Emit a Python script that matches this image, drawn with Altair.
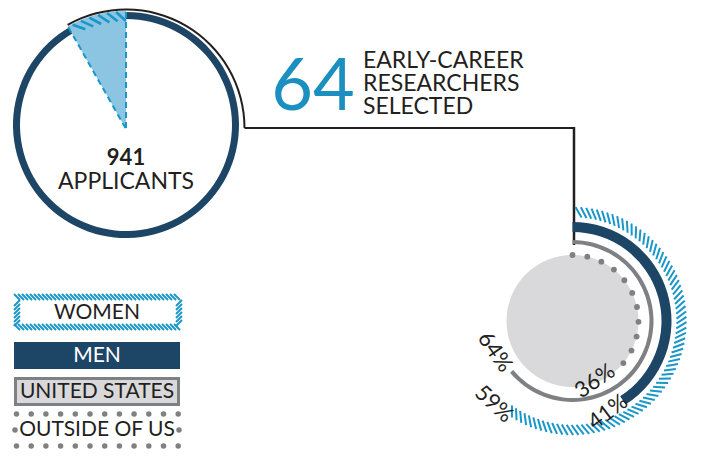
import math
import altair as alt
import pandas as pd

# ---------------- data ----------------
applicants = 941
selected = 64
selected_share_drawn = 8.2          # % of the applicant circle covered by the wedge, as drawn
group_names = ["Women", "Men", "United States", "Outside of US"]
group_pct = [59, 41, 64, 36]
legend_labels = ["WOMEN", "MEN", "UNITED STATES", "OUTSIDE OF US"]
headline_lines = ["EARLY-CAREER", "RESEARCHERS", "SELECTED"]
applicant_label = "APPLICANTS"

women_pct, men_pct, us_pct, out_pct = group_pct

# ---------------- layout / style ----------------
W, H = 687, 441
X0, Y0 = 8, 8
xs = alt.Scale(domain=[X0, X0 + W], nice=False, zero=False)
ys = alt.Scale(domain=[Y0, Y0 + H], nice=False, zero=False, reverse=True)
ts = alt.Scale(domain=[0, 100], range=[0, 2 * math.pi])

NAVY = "#1d4566"
LIGHTBLUE = "#8cc5e1"
HATCH = "#1a96c8"
BLUE64 = "#1a8fc0"
DISC = "#d9d9db"
GREY = "#7f8083"
DOT = "#808080"
INK = "#231f20"
FONT = "Lato"

one = pd.DataFrame({"k": [0]})


def arc(cx, cy, t0, t1, r_out, r_in, color):
    df = pd.DataFrame({"t0": [t0], "t1": [t1]})
    return alt.Chart(df).mark_arc(radius=r_out, radius2=r_in, color=color).encode(
        x=alt.XDatum(cx, scale=xs, axis=None),
        y=alt.YDatum(cy, scale=ys, axis=None),
        theta=alt.Theta("t0:Q", scale=ts),
        theta2="t1:Q",
    )


def polar_rules(data, cx, cy, r_out, r_in, delta, color, width, dash=None, inner_at_center=False):
    rin = 0 if inner_at_center else r_in
    kw = dict(color=color, strokeWidth=width)
    if dash:
        kw["strokeDash"] = dash
    return alt.Chart(data).transform_calculate(
        x=f"{cx} + {r_out}*sin(datum.a*PI/180)",
        y=f"{cy} - {r_out}*cos(datum.a*PI/180)",
        x2=f"{cx} + {rin}*sin((datum.a+{delta})*PI/180)",
        y2=f"{cy} - {rin}*cos((datum.a+{delta})*PI/180)",
    ).mark_rule(**kw).encode(
        x=alt.X("x:Q", scale=xs, axis=None),
        y=alt.Y("y:Q", scale=ys, axis=None),
        x2="x2:Q",
        y2="y2:Q",
    )


def rule(x1, y1, x2, y2, color=INK, width=2.2):
    return alt.Chart(one).mark_rule(color=color, strokeWidth=width).encode(
        x=alt.XDatum(x1, scale=xs, axis=None),
        y=alt.YDatum(y1, scale=ys, axis=None),
        x2=alt.X2Datum(x2),
        y2=alt.Y2Datum(y2),
    )


def rect(x1, y1, x2, y2, fill, stroke=None, sw=0):
    kw = dict(color=fill)
    if stroke:
        kw.update(stroke=stroke, strokeWidth=sw)
    return alt.Chart(one).mark_rect(**kw).encode(
        x=alt.XDatum(x1, scale=xs, axis=None),
        y=alt.YDatum(y1, scale=ys, axis=None),
        x2=alt.X2Datum(x2),
        y2=alt.Y2Datum(y2),
    )


def text(t, x, y, size, color=INK, weight="normal", align="center", baseline="middle", angle=0):
    kw = dict(text=t, fontSize=size, font=FONT, color=color, fontWeight=weight,
              align=align, baseline=baseline)
    if angle:
        kw["angle"] = angle
    return alt.Chart(one).mark_text(**kw).encode(
        x=alt.XDatum(x, scale=xs, axis=None),
        y=alt.YDatum(y, scale=ys, axis=None),
    )


def line_stripes(seq, xexpr, yexpr, x2expr, y2expr, color=HATCH, width=2):
    return alt.Chart(seq).transform_calculate(
        x=xexpr, y=yexpr, x2=x2expr, y2=y2expr
    ).mark_rule(color=color, strokeWidth=width).encode(
        x=alt.X("x:Q", scale=xs, axis=None),
        y=alt.Y("y:Q", scale=ys, axis=None),
        x2="x2:Q",
        y2="y2:Q",
    )


layers = []

# ---------------- applicants circle ----------------
CX, CY = 126, 125
wedge_deg = selected_share_drawn * 3.6
layers.append(arc(CX, CY, 0, 100 - selected_share_drawn, 113, 106, NAVY))
layers.append(arc(CX, 129, -selected_share_drawn, 0, 118, 0, LIGHTBLUE))
layers.append(polar_rules(alt.sequence(-wedge_deg + 1.5, -1, 4.6, as_="a"),
                          CX, CY, 113.5, 104, 5, HATCH, 2.6))
layers.append(polar_rules(pd.DataFrame({"a": [-wedge_deg, 0]}), CX, 129, 117, 0, 0,
                          HATCH, 2, dash=[6, 4], inner_at_center=True))
# connector
layers.append(arc(CX, 128, -selected_share_drawn, 25, 119.5, 117.5, INK))
layers.append(rule(244.5, 128, 574, 128))
layers.append(rule(574, 127, 574, 245, width=2.5))

layers.append(text(str(applicants), CX, 165, 22, weight="bold", baseline="alphabetic"))
layers.append(text(applicant_label, CX, 189, 23, weight="normal", baseline="alphabetic"))

# ---------------- headline ----------------
layers.append(text(str(selected), 313, 110, 72, color=BLUE64, baseline="alphabetic"))
for i, ln in enumerate(headline_lines):
    layers.append(text(ln, 363, 68 + i * 23, 23, weight="normal", align="left", baseline="alphabetic"))

# ---------------- selected researchers rings ----------------
RX, RY = 572.5, 321
layers.append(arc(RX, RY, 0, 100, 66, 0, DISC))
layers.append(arc(RX, RY, 0, us_pct, 81, 77, GREY))
layers.append(arc(RX, RY, 0, men_pct, 99, 89, NAVY))
layers.append(polar_rules(alt.sequence(1.5, women_pct * 3.6, 2.7, as_="a"),
                          RX, RY, 114, 104, 3.5, HATCH, 2))
out_step = out_pct * 3.6 / 10
layers.append(
    alt.Chart(alt.sequence(0, out_pct * 3.6 + 1, out_step, as_="a")).transform_calculate(
        x=f"{RX} + 66*sin(datum.a*PI/180)",
        y=f"{RY} - 66*cos(datum.a*PI/180)",
    ).mark_circle(size=34, color=DOT, opacity=1).encode(
        x=alt.X("x:Q", scale=xs, axis=None),
        y=alt.Y("y:Q", scale=ys, axis=None),
    )
)

layers.append(text(f"{us_pct}%", 495, 352, 22, angle=55))
layers.append(text(f"{women_pct}%", 494, 404, 22, angle=43))
layers.append(text(f"{out_pct}%", 595, 381, 22, angle=325))
layers.append(text(f"{men_pct}%", 608, 412, 22, angle=323))

# ---------------- legend ----------------
# women: hatched frame
LX1, LX2 = 14, 182
WY1, WY2 = 294, 330
layers.append(line_stripes(alt.sequence(LX1, LX2 - 5, 4, as_="s"),
                           "datum.s", f"{WY1}", "datum.s+6", f"{WY1 + 6}"))
layers.append(line_stripes(alt.sequence(LX1, LX2 - 5, 4, as_="s"),
                           "datum.s", f"{WY2 - 6}", "datum.s+6", f"{WY2}"))
layers.append(line_stripes(alt.sequence(WY1 + 6, WY2 - 6, 4, as_="s"),
                           f"{LX1}", "datum.s+6", f"{LX1 + 6}", "datum.s"))
layers.append(line_stripes(alt.sequence(WY1 + 6, WY2 - 6, 4, as_="s"),
                           f"{LX2 - 6}", "datum.s+6", f"{LX2}", "datum.s"))
layers.append(text(legend_labels[0], 97, 313, 21))

# men
layers.append(rect(14, 342, 180, 369, NAVY))
layers.append(text(legend_labels[1], 97, 356, 21, color="white"))

# united states
layers.append(rect(15.5, 378.5, 178.5, 404.5, DISC, stroke=GREY, sw=3))
layers.append(text(legend_labels[2], 97, 392, 21))

# outside of US: dotted frame
for yy in (414, 446):
    layers.append(
        alt.Chart(alt.sequence(0, 12, 1, as_="i")).transform_calculate(
            x="16.5 + datum.i*14.7", y=f"{yy}"
        ).mark_circle(size=30, color=DOT, opacity=1).encode(
            x=alt.X("x:Q", scale=xs, axis=None), y=alt.Y("y:Q", scale=ys, axis=None)
        )
    )
layers.append(
    alt.Chart(alt.sequence(0, 2, 1, as_="i")).transform_calculate(
        x="15 + datum.i*164", y="430"
    ).mark_circle(size=30, color=DOT, opacity=1).encode(
        x=alt.X("x:Q", scale=xs, axis=None), y=alt.Y("y:Q", scale=ys, axis=None)
    )
)
layers.append(text(legend_labels[3], 97, 430, 21))

chart = alt.layer(*layers).properties(
    width=W, height=H, autosize=alt.AutoSizeParams(type="none"), padding=0
).configure_view(stroke=None)

chart.save("out.html", embed_options={"renderer": "svg", "actions": False})
